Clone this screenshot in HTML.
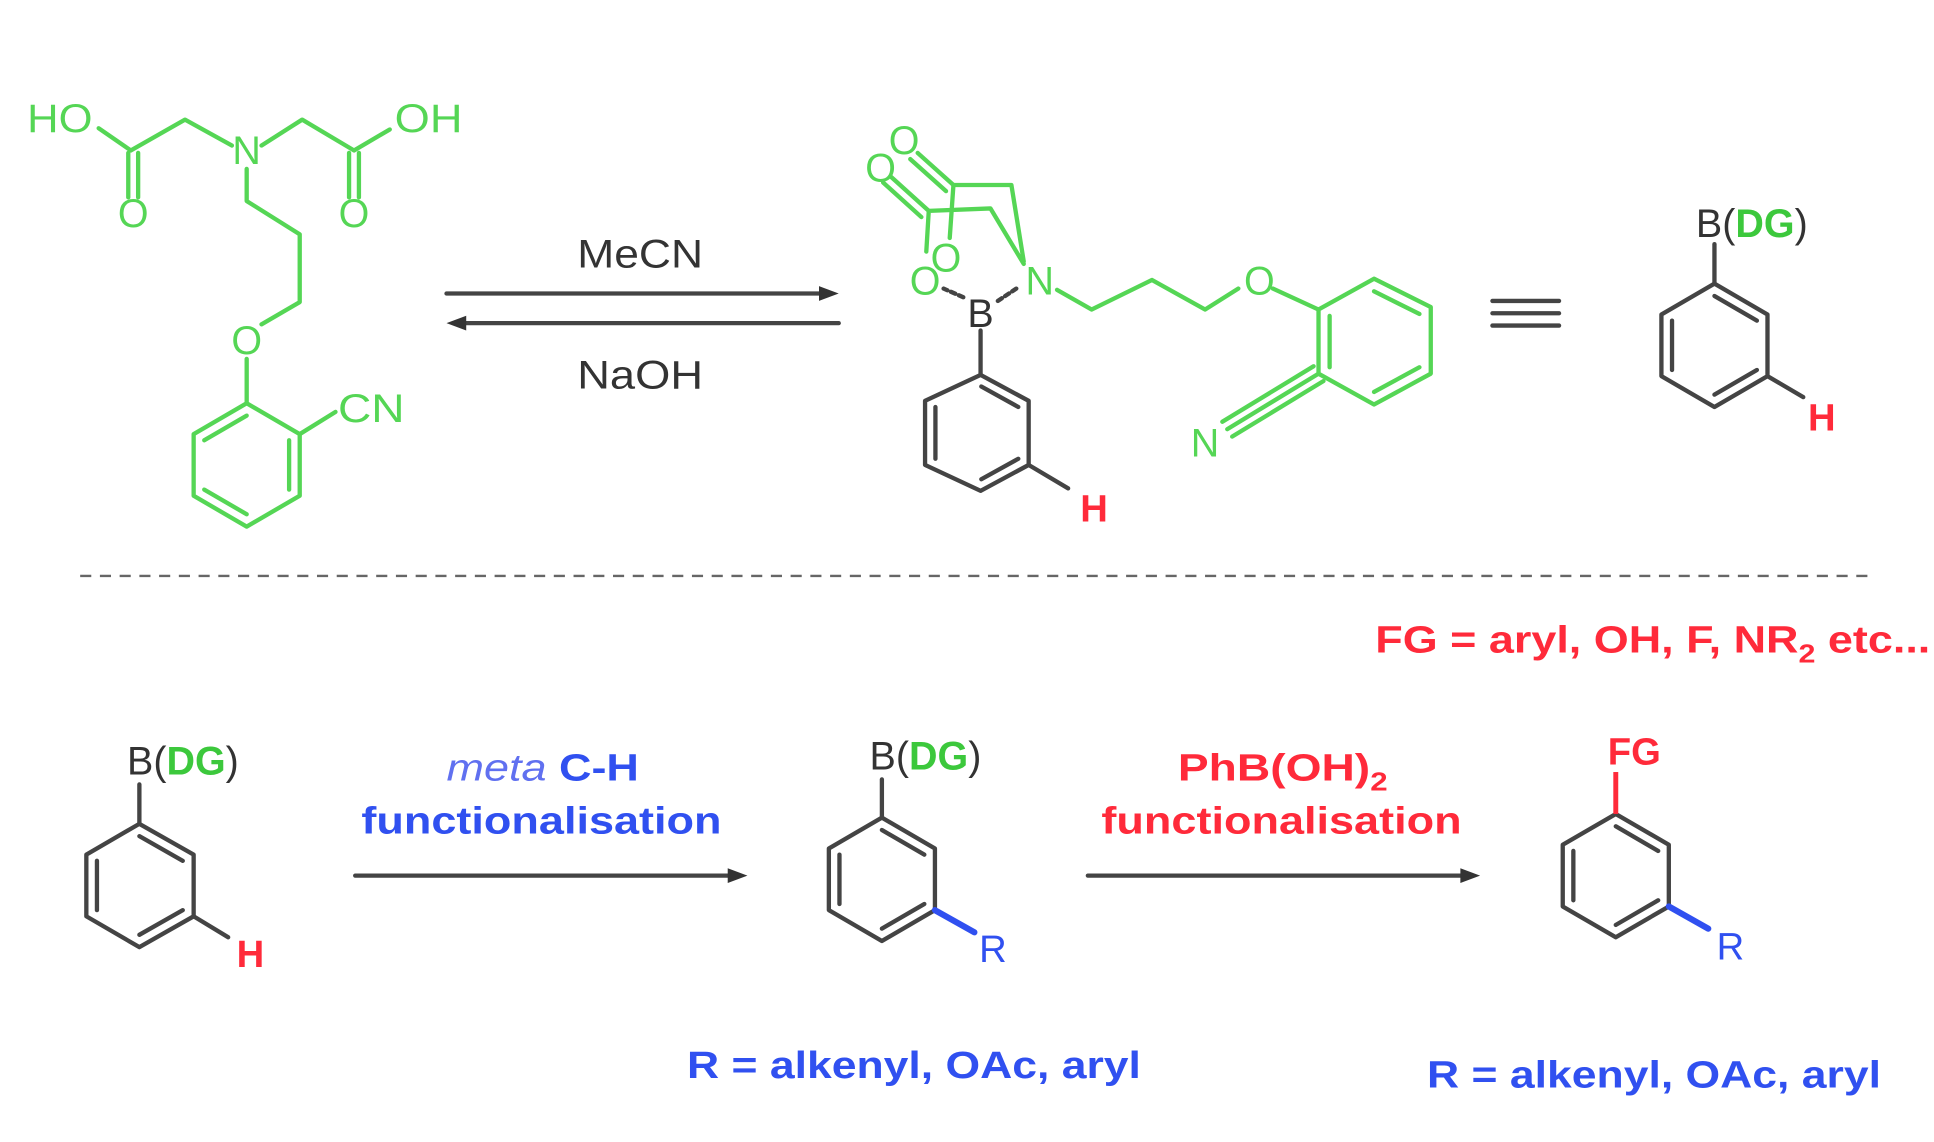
<!DOCTYPE html>
<html><head><meta charset="utf-8"><style>
html,body{margin:0;padding:0;background:#fff;}
svg{display:block;}
text{font-family:"Liberation Sans",Arial,sans-serif;}
</style></head><body>
<svg width="1934" height="1142" viewBox="0 0 1568 926" preserveAspectRatio="none" xmlns="http://www.w3.org/2000/svg">
<rect width="1568" height="926" fill="#fff"/>
<g stroke="#55d655" stroke-width="3.5" fill="none" stroke-linecap="round" stroke-linejoin="round">
  <polyline points="80,104 106,122 150,97 188,118"/>
  <polyline points="212,118 245,97 287,122 316,105"/>
  <line x1="104" y1="124" x2="104" y2="160"/><line x1="112" y1="124" x2="112" y2="160"/>
  <line x1="283" y1="124" x2="283" y2="160"/><line x1="291" y1="124" x2="291" y2="160"/>
  <polyline points="200,137 200,163 243,190 243,245 212,263"/>
  <line x1="200" y1="291" x2="200" y2="327"/>
  <polygon points="200,327 243,352 243,402 200,427 157,402 157,352"/>
  <line x1="200" y1="337" x2="165.6" y2="357"/><line x1="165.6" y1="397" x2="200" y2="417"/><line x1="234.4" y1="357" x2="234.4" y2="397"/>
  <line x1="243" y1="352" x2="272" y2="334"/>
  <polyline points="830,212 820,150 773,150 770,193"/>
  <polyline points="830,214 803,169 753,171 751,204"/>
  <line x1="773" y1="150" x2="744" y2="124"/><line x1="767" y1="155" x2="738" y2="129"/>
  <line x1="753" y1="171" x2="722" y2="143"/><line x1="747" y1="176" x2="716" y2="148"/>
  <polyline points="857,235 885,251 934,227 977,251 1004,234"/>
  <polyline points="1032,234 1069,251"/>
  <polygon points="1069,251 1114,226 1160,249 1160,303 1114,328 1069,303"/>
  <line x1="1114" y1="236.2" x2="1150.8" y2="254.6"/><line x1="1150.8" y1="297.8" x2="1114" y2="317.8"/><line x1="1078" y1="256.2" x2="1078" y2="297.8"/>
  <line x1="1069" y1="303" x2="995" y2="348"/><line x1="1065" y1="297" x2="991" y2="342"/><line x1="1073" y1="309" x2="999" y2="354"/>
</g>
<g stroke="#444" stroke-width="3.5" fill="none" stroke-linecap="round" stroke-linejoin="round">
  <line x1="809" y1="244" x2="824" y2="234" stroke-dasharray="4,3"/>
  <line x1="781" y1="241" x2="765" y2="234" stroke-dasharray="4,3"/>
  <line x1="795" y1="268" x2="795" y2="304"/>
  <polygon points="795,304 834,325 834,377 795,398 750,377 750,325"/>
  <line x1="795.6" y1="313.4" x2="825.6" y2="330"/><line x1="758.4" y1="330" x2="758.4" y2="372"/><line x1="825.6" y1="372" x2="795.6" y2="388.6"/>
  <line x1="834" y1="377" x2="866" y2="396"/>
  <line x1="1390" y1="198" x2="1390" y2="230"/>
  <polygon points="1390,230 1433,255 1433,305 1390,330 1347,305 1347,255"/>
  <line x1="1390" y1="240" x2="1424.4" y2="260"/><line x1="1355.6" y1="260" x2="1355.6" y2="300"/><line x1="1424.4" y1="300" x2="1390" y2="320"/>
  <line x1="1433" y1="305" x2="1462" y2="322"/>
  <line x1="1210" y1="244" x2="1264" y2="244"/><line x1="1210" y1="254" x2="1264" y2="254"/><line x1="1210" y1="264" x2="1264" y2="264"/>
  <line x1="362" y1="238" x2="668" y2="238"/>
  <line x1="372" y1="262" x2="680" y2="262"/>
  <line x1="288" y1="710" x2="594" y2="710"/>
  <line x1="882" y1="710" x2="1188" y2="710"/>
  <line x1="113" y1="636" x2="113" y2="668"/>
  <polygon points="113,668 157,693 157,743 113,768 70,743 70,693"/>
  <line x1="113" y1="678" x2="148.2" y2="698"/><line x1="78.6" y1="698" x2="78.6" y2="738"/><line x1="148.2" y1="738" x2="113" y2="758"/>
  <line x1="157" y1="743" x2="185" y2="760"/>
  <line x1="715" y1="632" x2="715" y2="663"/>
  <polygon points="715,663 758,688 758,738 715,763 672,738 672,688"/>
  <line x1="715" y1="673" x2="749.4" y2="693"/><line x1="680.6" y1="693" x2="680.6" y2="733"/><line x1="749.4" y1="733" x2="715" y2="753"/>
  <polygon points="1310,660 1353,685 1353,735 1310,760 1267,735 1267,685"/>
  <line x1="1310" y1="670" x2="1344.4" y2="690"/><line x1="1275.6" y1="690" x2="1275.6" y2="730"/><line x1="1344.4" y1="730" x2="1310" y2="750"/>
</g>
<line x1="758" y1="738" x2="790" y2="756" stroke="#3050f0" stroke-width="5" stroke-linecap="round"/>
<line x1="1353" y1="735" x2="1385" y2="753" stroke="#3050f0" stroke-width="5" stroke-linecap="round"/>
<line x1="1310" y1="626" x2="1310" y2="660" stroke="#ff2a3a" stroke-width="4"/>
<g fill="#333">
  <polygon points="680,238 664,232 664,244"/>
  <polygon points="362,262 378,256 378,268"/>
  <polygon points="606,710 590,704 590,716"/>
  <polygon points="1200,710 1184,704 1184,716"/>
</g>
<line x1="65" y1="467" x2="1520" y2="467" stroke="#666" stroke-width="2" stroke-dasharray="9,7"/>
<g fill="#55d655" font-size="32">
  <text x="22" y="107" textLength="53" lengthAdjust="spacingAndGlyphs">HO</text>
  <text x="320" y="107" textLength="55" lengthAdjust="spacingAndGlyphs">OH</text>
  <text x="200" y="133" text-anchor="middle">N</text>
  <text x="108" y="184" text-anchor="middle">O</text>
  <text x="287" y="184" text-anchor="middle">O</text>
  <text x="200" y="287" text-anchor="middle">O</text>
  <text x="274" y="342" textLength="54" lengthAdjust="spacingAndGlyphs">CN</text>
  <text x="733" y="125" text-anchor="middle">O</text>
  <text x="714" y="147" text-anchor="middle">O</text>
  <text x="767" y="220" text-anchor="middle">O</text>
  <text x="750" y="239" text-anchor="middle">O</text>
  <text x="843" y="239" text-anchor="middle">N</text>
  <text x="1021" y="239" text-anchor="middle">O</text>
  <text x="977" y="370" text-anchor="middle">N</text>
</g>
<g fill="#333" font-size="32">
  <text x="795" y="265" text-anchor="middle">B</text>
  <text x="468" y="217" textLength="102" lengthAdjust="spacingAndGlyphs">MeCN</text>
  <text x="468" y="315" textLength="102" lengthAdjust="spacingAndGlyphs">NaOH</text>
  <text x="1375" y="192">B(<tspan fill="#3cc83c" font-weight="bold">DG</tspan>)</text>
  <text x="103" y="628">B(<tspan fill="#3cc83c" font-weight="bold">DG</tspan>)</text>
  <text x="705" y="624">B(<tspan fill="#3cc83c" font-weight="bold">DG</tspan>)</text>
</g>
<g fill="#ff2a3a" font-size="31" font-weight="bold">
  <text x="887" y="423" text-anchor="middle">H</text>
  <text x="1477" y="349" text-anchor="middle">H</text>
  <text x="203" y="784" text-anchor="middle">H</text>
  <text x="1325" y="620" text-anchor="middle">FG</text>
  <text x="1115" y="529" textLength="450" lengthAdjust="spacingAndGlyphs">FG = aryl, OH, F, NR<tspan font-size="21" dy="8">2</tspan><tspan dy="-8"> etc...</tspan></text>
  <text x="955" y="633" textLength="170" lengthAdjust="spacingAndGlyphs">PhB(OH)<tspan font-size="21" dy="8">2</tspan></text>
  <text x="893" y="676" textLength="292" lengthAdjust="spacingAndGlyphs">functionalisation</text>
</g>
<g fill="#3050f0" font-size="31">
  <text x="362" y="633" textLength="156" lengthAdjust="spacingAndGlyphs"><tspan font-style="italic" fill="#6070f0">meta</tspan> <tspan font-weight="bold">C-H</tspan></text>
  <text x="293" y="676" font-weight="bold" textLength="292" lengthAdjust="spacingAndGlyphs">functionalisation</text>
  <text x="805" y="780" text-anchor="middle">R</text>
  <text x="1403" y="778" text-anchor="middle">R</text>
  <text x="557" y="874" font-weight="bold" textLength="368" lengthAdjust="spacingAndGlyphs">R = alkenyl, OAc, aryl</text>
  <text x="1157" y="882" font-weight="bold" textLength="368" lengthAdjust="spacingAndGlyphs">R = alkenyl, OAc, aryl</text>
</g>
</svg>
</body></html>
